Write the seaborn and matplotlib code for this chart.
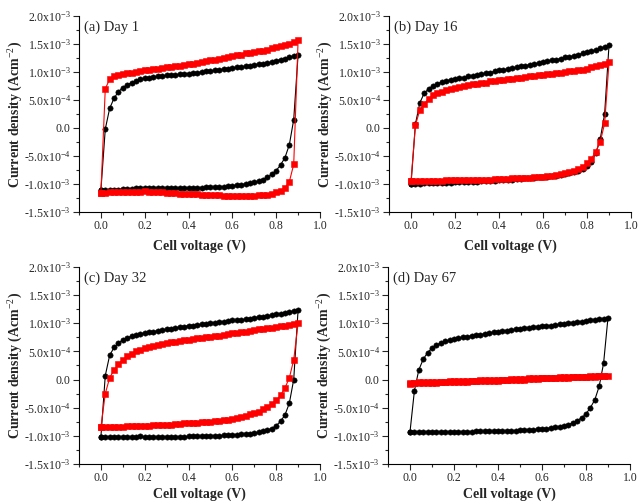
import numpy as np
import matplotlib
matplotlib.use("Agg")
import matplotlib.pyplot as plt
from matplotlib.ticker import MultipleLocator, FixedLocator, FixedFormatter
import seaborn as sns

# Cell voltage sweep (V), forward scan 0 -> 0.9 V
voltage = [0.00, 0.02, 0.04, 0.06, 0.08, 0.10, 0.12, 0.14, 0.16, 0.18,
           0.20, 0.22, 0.24, 0.26, 0.28, 0.30, 0.32, 0.34, 0.36, 0.38,
           0.40, 0.42, 0.44, 0.46, 0.48, 0.50, 0.52, 0.54, 0.56, 0.58,
           0.60, 0.62, 0.64, 0.66, 0.68, 0.70, 0.72, 0.74, 0.76, 0.78,
           0.80, 0.82, 0.84, 0.86, 0.88, 0.90]

# current density in mA/cm2 (x1e-3 A/cm2); *_fwd on voltage, *_rev on 0.88 -> 0.00
a_black_fwd = [-1.11, -0.02, 0.35, 0.53, 0.65, 0.72, 0.77, 0.81, 0.84, 0.87,
               0.89, 0.90, 0.91, 0.92, 0.93, 0.94, 0.95, 0.95, 0.96, 0.97,
               0.97, 0.98, 0.99, 1.00, 1.01, 1.02, 1.03, 1.04, 1.05, 1.06,
               1.07, 1.08, 1.09, 1.10, 1.11, 1.13, 1.14, 1.15, 1.16, 1.18,
               1.20, 1.22, 1.24, 1.26, 1.28, 1.31]
a_black_rev = [0.15, -0.30, -0.53, -0.66, -0.76, -0.83, -0.88, -0.92, -0.95, -0.97,
               -0.99, -1.00, -1.01, -1.02, -1.03, -1.04, -1.05, -1.05, -1.06, -1.06,
               -1.06, -1.07, -1.07, -1.07, -1.07, -1.07, -1.07, -1.08, -1.08, -1.08,
               -1.08, -1.08, -1.08, -1.08, -1.07, -1.08, -1.08, -1.09, -1.09, -1.09,
               -1.10, -1.10, -1.10, -1.10, -1.11]
a_red_fwd = [-1.16, 0.70, 0.87, 0.92, 0.95, 0.97, 0.98, 0.99, 1.00, 1.01,
             1.03, 1.04, 1.05, 1.06, 1.07, 1.08, 1.09, 1.10, 1.11, 1.12,
             1.14, 1.15, 1.16, 1.18, 1.19, 1.21, 1.22, 1.24, 1.25, 1.27,
             1.29, 1.30, 1.31, 1.33, 1.34, 1.36, 1.37, 1.38, 1.40, 1.42,
             1.44, 1.46, 1.48, 1.50, 1.54, 1.57]
a_red_rev = [-0.65, -0.96, -1.07, -1.12, -1.15, -1.17, -1.19, -1.20, -1.20, -1.21,
             -1.21, -1.21, -1.21, -1.21, -1.21, -1.21, -1.21, -1.20, -1.20, -1.20,
             -1.19, -1.19, -1.18, -1.18, -1.18, -1.17, -1.17, -1.16, -1.16, -1.16,
             -1.15, -1.15, -1.14, -1.14, -1.13, -1.14, -1.14, -1.14, -1.15, -1.15,
             -1.15, -1.15, -1.15, -1.16, -1.16]

b_black_fwd = [-1.00, 0.07, 0.45, 0.62, 0.70, 0.75, 0.79, 0.82, 0.84, 0.86,
               0.88, 0.89, 0.90, 0.92, 0.93, 0.95, 0.96, 0.98, 0.99, 1.01,
               1.03, 1.04, 1.05, 1.07, 1.08, 1.10, 1.11, 1.13, 1.14, 1.16,
               1.18, 1.19, 1.21, 1.22, 1.24, 1.26, 1.27, 1.29, 1.31, 1.33,
               1.35, 1.37, 1.39, 1.42, 1.45, 1.48]
b_black_rev = [0.25, -0.20, -0.45, -0.60, -0.68, -0.73, -0.77, -0.79, -0.81, -0.83,
               -0.84, -0.85, -0.86, -0.87, -0.88, -0.88, -0.89, -0.90, -0.90, -0.91,
               -0.91, -0.92, -0.92, -0.93, -0.93, -0.94, -0.94, -0.95, -0.95, -0.96,
               -0.96, -0.96, -0.97, -0.97, -0.97, -0.98, -0.98, -0.98, -0.99, -0.99,
               -0.99, -0.99, -1.00, -1.00, -1.00]
b_red_fwd = [-0.95, 0.05, 0.32, 0.43, 0.52, 0.58, 0.62, 0.65, 0.68, 0.70,
             0.72, 0.73, 0.75, 0.76, 0.78, 0.79, 0.80, 0.81, 0.83, 0.84,
             0.85, 0.86, 0.87, 0.88, 0.89, 0.90, 0.91, 0.92, 0.93, 0.94,
             0.95, 0.96, 0.97, 0.98, 0.99, 1.00, 1.01, 1.02, 1.03, 1.04,
             1.06, 1.08, 1.10, 1.12, 1.15, 1.17]
b_red_rev = [0.08, -0.25, -0.42, -0.55, -0.63, -0.69, -0.74, -0.77, -0.79, -0.81,
             -0.82, -0.84, -0.85, -0.86, -0.87, -0.87, -0.88, -0.89, -0.89, -0.90,
             -0.90, -0.90, -0.91, -0.91, -0.91, -0.91, -0.92, -0.92, -0.92, -0.92,
             -0.92, -0.93, -0.93, -0.93, -0.93, -0.93, -0.93, -0.94, -0.94, -0.94,
             -0.94, -0.94, -0.94, -0.94, -0.95]

c_black_fwd = [-1.02, 0.07, 0.43, 0.57, 0.65, 0.70, 0.74, 0.77, 0.79, 0.81,
               0.83, 0.84, 0.85, 0.87, 0.88, 0.89, 0.90, 0.92, 0.93, 0.94,
               0.96, 0.96, 0.97, 0.98, 0.99, 1.01, 1.01, 1.02, 1.03, 1.04,
               1.05, 1.05, 1.06, 1.07, 1.08, 1.10, 1.11, 1.12, 1.13, 1.14,
               1.16, 1.17, 1.19, 1.20, 1.22, 1.24]
c_black_rev = [0.00, -0.42, -0.63, -0.74, -0.82, -0.87, -0.90, -0.92, -0.94, -0.95,
               -0.96, -0.97, -0.97, -0.98, -0.98, -0.99, -0.99, -1.00, -1.00, -1.00,
               -1.01, -1.01, -1.01, -1.01, -1.01, -1.02, -1.02, -1.02, -1.02, -1.02,
               -1.02, -1.02, -1.02, -1.02, -1.02, -1.01, -1.02, -1.02, -1.02, -1.02,
               -1.02, -1.02, -1.02, -1.02, -1.02]
c_red_fwd = [-0.85, -0.25, 0.03, 0.17, 0.27, 0.35, 0.41, 0.46, 0.50, 0.53,
             0.56, 0.58, 0.60, 0.62, 0.64, 0.65, 0.66, 0.67, 0.69, 0.70,
             0.71, 0.72, 0.73, 0.74, 0.75, 0.76, 0.77, 0.78, 0.79, 0.81,
             0.82, 0.83, 0.84, 0.85, 0.87, 0.88, 0.89, 0.90, 0.91, 0.92,
             0.94, 0.95, 0.96, 0.97, 0.99, 1.00]
c_red_rev = [0.35, 0.03, -0.15, -0.28, -0.37, -0.43, -0.49, -0.53, -0.57, -0.60,
             -0.62, -0.64, -0.66, -0.68, -0.70, -0.71, -0.72, -0.73, -0.74, -0.75,
             -0.75, -0.76, -0.77, -0.77, -0.78, -0.78, -0.79, -0.79, -0.80, -0.80,
             -0.80, -0.81, -0.81, -0.82, -0.82, -0.82, -0.83, -0.83, -0.83, -0.84,
             -0.84, -0.84, -0.85, -0.85, -0.85]

d_black_fwd = [-0.93, -0.20, 0.17, 0.36, 0.48, 0.56, 0.61, 0.65, 0.68, 0.70,
               0.72, 0.73, 0.75, 0.76, 0.78, 0.79, 0.80, 0.81, 0.83, 0.84,
               0.85, 0.86, 0.87, 0.88, 0.89, 0.90, 0.91, 0.92, 0.93, 0.94,
               0.95, 0.96, 0.96, 0.97, 0.98, 0.99, 1.00, 1.01, 1.02, 1.03,
               1.04, 1.05, 1.06, 1.07, 1.08, 1.10]
d_black_rev = [0.29, -0.12, -0.36, -0.50, -0.61, -0.68, -0.73, -0.77, -0.80, -0.82,
               -0.84, -0.85, -0.86, -0.87, -0.87, -0.88, -0.89, -0.89, -0.90, -0.90,
               -0.91, -0.91, -0.91, -0.92, -0.92, -0.92, -0.92, -0.92, -0.92, -0.92,
               -0.93, -0.93, -0.93, -0.93, -0.93, -0.93, -0.93, -0.93, -0.93, -0.93,
               -0.93, -0.93, -0.93, -0.93, -0.93]
d_red_fwd = [-0.06, -0.06, -0.05, -0.05, -0.05, -0.04, -0.04, -0.04, -0.04, -0.03,
             -0.03, -0.03, -0.02, -0.02, -0.02, -0.02, -0.01, -0.01, -0.01, 0.00,
             0.00, 0.00, 0.00, 0.01, 0.01, 0.01, 0.01, 0.02, 0.02, 0.02,
             0.03, 0.03, 0.03, 0.03, 0.04, 0.04, 0.04, 0.05, 0.05, 0.05,
             0.05, 0.06, 0.06, 0.06, 0.07, 0.07]
d_red_rev = [0.06, 0.06, 0.05, 0.05, 0.05, 0.04, 0.04, 0.04, 0.03, 0.03,
             0.03, 0.03, 0.02, 0.02, 0.02, 0.01, 0.01, 0.01, 0.00, 0.00,
             0.00, -0.01, -0.01, -0.01, -0.02, -0.02, -0.02, -0.02, -0.03, -0.03,
             -0.03, -0.04, -0.04, -0.04, -0.05, -0.05, -0.05, -0.05, -0.06, -0.06,
             -0.06, -0.07, -0.07, -0.07, -0.08]

panel_titles = ["(a) Day 1", "(b) Day 16", "(c) Day 32", "(d) Day 67"]
panels = [
    (a_black_fwd, a_black_rev, a_red_fwd, a_red_rev),
    (b_black_fwd, b_black_rev, b_red_fwd, b_red_rev),
    (c_black_fwd, c_black_rev, c_red_fwd, c_red_rev),
    (d_black_fwd, d_black_rev, d_red_fwd, d_red_rev),
]

y_ticks = [-1.5e-3, -1.0e-3, -5.0e-4, 0.0, 5.0e-4, 1.0e-3, 1.5e-3, 2.0e-3]
y_ticklabels = ["-1.5x10$^{-3}$", "-1.0x10$^{-3}$", "-5.0x10$^{-4}$", "0.0",
                "5.0x10$^{-4}$", "1.0x10$^{-3}$", "1.5x10$^{-3}$", "2.0x10$^{-3}$"]
x_ticks = [0.0, 0.2, 0.4, 0.6, 0.8, 1.0]
x_ticklabels = ["0.0", "0.2", "0.4", "0.6", "0.8", "1.0"]

sns.set_style("ticks")
plt.rcParams["font.family"] = ["Liberation Serif", "DejaVu Serif"]
plt.rcParams["mathtext.fontset"] = "custom"
plt.rcParams["mathtext.rm"] = "Liberation Serif"
plt.rcParams["mathtext.it"] = "Liberation Serif:italic"
plt.rcParams["mathtext.bf"] = "Liberation Serif:bold"

fig = plt.figure(figsize=(6.39, 5.04), dpi=100)
positions = [
    [0.1236, 0.5794, 0.3772, 0.3889],
    [0.6088, 0.5794, 0.3787, 0.3889],
    [0.1236, 0.0794, 0.3772, 0.3909],
    [0.6072, 0.0794, 0.3787, 0.3909],
]
xlabel_pads = [5, 5, 2, 2]

# closed CV loop: forward scan then back down
v_loop = voltage + voltage[-2::-1]

for pos, pad, title, (bf, br, rf, rr) in zip(positions, xlabel_pads, panel_titles, panels):
    ax = fig.add_axes(pos)
    j_black = np.array(bf + br) * 1e-3
    j_red = np.array(rf + rr) * 1e-3
    sns.lineplot(x=v_loop, y=j_black, sort=False, estimator=None, ax=ax,
                 color="black", marker="o", markersize=3.8, mec="black", mew=0.4,
                 linewidth=0.8)
    sns.lineplot(x=v_loop, y=j_red, sort=False, estimator=None, ax=ax,
                 color="#ff0000", marker="s", markersize=3.8, mec="#ff0000", mew=0.4,
                 linewidth=0.8)

    ax.set_xlim(-0.1, 1.0)
    ax.set_ylim(-1.5e-3, 2.0e-3)
    ax.xaxis.set_major_locator(FixedLocator(x_ticks))
    ax.xaxis.set_major_formatter(FixedFormatter(x_ticklabels))
    ax.xaxis.set_minor_locator(MultipleLocator(0.1))
    ax.yaxis.set_major_locator(FixedLocator(y_ticks))
    ax.yaxis.set_major_formatter(FixedFormatter(y_ticklabels))
    ax.yaxis.set_minor_locator(MultipleLocator(2.5e-4))
    ax.tick_params(which="major", direction="out", length=4, width=0.8,
                   labelsize=8.5, pad=2)
    ax.tick_params(which="minor", direction="out", length=2, width=0.8)
    for s in ["left", "bottom"]:
        ax.spines[s].set_linewidth(0.8)
        ax.spines[s].set_color("black")
    sns.despine(ax=ax)

    ax.set_xlabel("Cell voltage (V)", fontsize=10, fontweight="bold", labelpad=pad)
    ax.set_ylabel("Current density (Acm$^{-2}$)", fontsize=10, fontweight="bold")
    ax.yaxis.set_label_coords(-0.222, 0.5)
    ax.text(0.02, 0.975, title, transform=ax.transAxes, fontsize=10.5,
            ha="left", va="top")

fig.savefig("out.png", dpi=100)
